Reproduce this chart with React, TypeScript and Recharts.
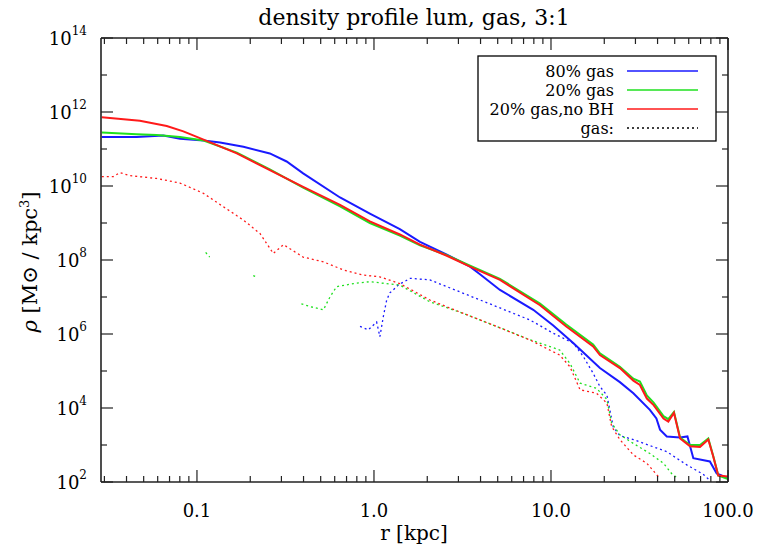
import React from 'react'
import { LineChart, Line, XAxis, YAxis } from 'recharts'

// axis ranges and ticks
const rMin = 0.0287
const rMax = 100
const rhoMin = 1e2
const rhoMax = 1e14
const xTicks = [
  0.03, 0.04, 0.05, 0.06, 0.07, 0.08, 0.09, 0.1,
  0.2, 0.3, 0.4, 0.5, 0.6, 0.7, 0.8, 0.9, 1,
  2, 3, 4, 5, 6, 7, 8, 9, 10,
  20, 30, 40, 50, 60, 70, 80, 90, 100,
]
const xMajor = [0.1, 1, 10, 100]
const xLabels = ['0.1', '1.0', '10.0', '100.0']
const yTicks = [1e2, 1e3, 1e4, 1e5, 1e6, 1e7, 1e8, 1e9, 1e10, 1e11, 1e12, 1e13, 1e14]
const yLabelExp = [2, 4, 6, 8, 10, 12, 14]

// 80% gas (blue, solid)
const blueR = [0.029, 0.0456, 0.0646, 0.0802, 0.109, 0.135, 0.183, 0.258, 0.321, 0.398, 0.643, 0.948, 1.4, 1.82, 2.58, 3.49, 3.97, 5.15, 7.94, 10.3, 13.4, 18.9, 24.5, 29.2, 36.2, 39.4, 41.3, 45.1, 53.6, 59, 63.7, 79, 86.3, 98.4]
const blueRho = [2.1e11, 2.1e11, 2.3e11, 1.9e11, 1.7e11, 1.5e11, 1.15e11, 7.6e10, 4.6e10, 2.2e10, 4.9e9, 1.8e9, 6.8e8, 3.1e8, 1.4e8, 6.6e7, 4.1e7, 1.55e7, 4.5e6, 1.7e6, 5.6e5, 1.2e5, 5.0e4, 2.5e4, 8.9e3, 5.2e3, 2.6e3, 1.7e3, 1.6e3, 1.7e3, 4.4e2, 3.6e2, 1.7e2, 1.3e2]

// 20% gas (green, solid)
const greenR = [0.029, 0.0456, 0.0592, 0.0802, 0.109, 0.168, 0.258, 0.398, 0.643, 0.948, 1.4, 1.82, 2.58, 3.49, 5.15, 8.67, 12.2, 17.3, 18.9, 24.5, 29.2, 31.8, 34.8, 38, 43.2, 46, 49.5, 53.6, 61, 69.5, 77.4, 82.6, 88.1, 100]
const greenRho = [2.8e11, 2.5e11, 2.4e11, 2.1e11, 1.7e11, 8.0e10, 2.8e10, 9.0e9, 2.8e9, 1.0e9, 4.6e8, 2.5e8, 1.35e8, 7.0e7, 3.1e7, 6.6e6, 1.8e6, 5.2e5, 3.0e5, 1.3e5, 6.2e4, 5.2e4, 2.2e4, 1.4e4, 6.0e3, 5.0e3, 7.8e3, 1.6e3, 1.0e3, 1.0e3, 1.5e3, 5.0e2, 1.5e2, 1.2e2]

// 20% gas, no BH (red, solid)
const redR = [0.029, 0.0476, 0.0675, 0.0838, 0.109, 0.168, 0.258, 0.398, 0.643, 0.948, 1.4, 1.82, 2.58, 3.49, 5.15, 8.67, 12.2, 17.3, 18.9, 24.5, 29.2, 31.8, 34.8, 38, 43.2, 46, 49.5, 53.6, 61, 69.5, 77.4, 82.6, 88.1, 100]
const redRho = [7.2e11, 5.8e11, 4.2e11, 3.0e11, 1.8e11, 7.6e10, 2.7e10, 9.5e9, 3.1e9, 1.1e9, 4.9e8, 2.6e8, 1.3e8, 6.6e7, 2.9e7, 6.0e6, 1.6e6, 4.6e5, 2.7e5, 1.2e5, 5.5e4, 4.2e4, 1.8e4, 1.2e4, 5.2e3, 4.3e3, 7.4e3, 1.5e3, 9.3e2, 8.9e2, 1.4e3, 4.8e2, 1.5e2, 1.4e2]

// gas components (dotted); null breaks the curve where the profile has gaps
const blueGasR = [0.834, 0.929, 1.035, 1.08, 1.13, 1.18, 1.23, 1.285, 1.37, 1.6, 2.07, 3.2, 4.93, 7.6, 10.3, 13.4, 15.2, 17.3, 18.9, 20.7, 22.5, 24.5, 29.2, 45.1, 58.5, 72.6, 79.1]
const blueGasRho = [1.6e6, 1.3e6, 2.1e6, 8.5e5, 3.0e6, 8.3e6, 1.3e7, 1.55e7, 2.1e7, 3.2e7, 2.9e7, 1.26e7, 5.5e6, 2.4e6, 1.05e6, 5.6e5, 2.5e5, 8.7e4, 3.8e4, 2.2e4, 3.0e3, 1.8e3, 1.4e3, 6.6e2, 2.9e2, 1.6e2, 1.1e2]

const greenGasR = [0.112, 0.118, 0.16, 0.208, 0.214, 0.3, 0.389, 0.437, 0.518, 0.564, 0.615, 0.764, 0.948, 1.18, 1.4, 2.07, 3.2, 4.93, 7.6, 11.2, 12.8, 14.6, 18.1, 20.7, 22.0, 24.5, 29.2, 36.2, 43.2, 48, 52]
const greenGasRho = [1.6e8, 1.2e8, null, 3.8e7, 3.6e7, null, 6.5e6, 5.5e6, 4.5e6, 1.0e7, 1.9e7, 2.3e7, 2.6e7, 2.3e7, 2.1e7, 7.4e6, 3.6e6, 1.6e6, 7.0e5, 3.7e5, 1.6e5, 4.7e4, 3.4e4, 1.7e4, 3.9e3, 1.9e3, 1.1e3, 5.9e2, 3.2e2, 1.7e2, 1.26e2]

const redGasR = [0.029, 0.0337, 0.0367, 0.0418, 0.0592, 0.0802, 0.109, 0.141, 0.183, 0.227, 0.27, 0.308, 0.398, 0.518, 0.671, 0.871, 1.08, 1.4, 2.07, 3.2, 4.93, 7.6, 11.2, 12.8, 14.6, 18.1, 20.7, 22.0, 24.5, 29.2, 34.8, 40.4]
const redGasRho = [1.8e10, 1.8e10, 2.3e10, 1.9e10, 1.6e10, 1.2e10, 6.3e9, 2.75e9, 1.2e9, 5.2e8, 1.5e8, 2.6e8, 1.2e8, 8.9e7, 5.4e7, 3.9e7, 3.5e7, 2.3e7, 8.3e6, 3.6e6, 1.6e6, 6.9e5, 2.7e5, 1.3e5, 3.1e4, 2.5e4, 1.35e4, 3.2e3, 1.4e3, 5.4e2, 3.2e2, 1.4e2]

const BLUE = '#1a1aff'
const GREEN = '#1fe01f'
const RED = '#ff1a1a'
const AXIS = '#222'
const FONT = '"DejaVu Serif", "Liberation Serif", serif'

const zip = (r: number[], rho: (number | null)[]) => r.map((v, i) => ({ r: v, rho: rho[i] }))

const series = [
  { key: 'blueGas', data: zip(blueGasR, blueGasRho), color: BLUE, dotted: true },
  { key: 'greenGas', data: zip(greenGasR, greenGasRho), color: GREEN, dotted: true },
  { key: 'redGas', data: zip(redGasR, redGasRho), color: RED, dotted: true },
  { key: 'blue', data: zip(blueR, blueRho), color: BLUE, dotted: false },
  { key: 'green', data: zip(greenR, greenRho), color: GREEN, dotted: false },
  { key: 'red', data: zip(redR, redRho), color: RED, dotted: false },
]

const legendRows = [
  { label: '80% gas', color: BLUE, dotted: false },
  { label: '20% gas', color: GREEN, dotted: false },
  { label: '20% gas,no BH', color: RED, dotted: false },
  { label: 'gas:', color: '#000', dotted: true },
]

const isMajorX = (v: number) => xMajor.some((m) => Math.abs(m - v) < 1e-9)
const expOf = (v: number) => Math.round(Math.log10(v))

function BottomTick({ x, y, payload }: any) {
  const v = payload.value
  const idx = xMajor.findIndex((m) => Math.abs(m - v) < 1e-9)
  const major = idx >= 0
  return (
    <g>
      <line x1={x} y1={y} x2={x} y2={y - (major ? 12 : 6)} stroke={AXIS} strokeWidth={1.2} />
      {major && (
        <text x={x} y={y + 35} textAnchor="middle" fontFamily={FONT} fontSize={18} fill="#000">
          {xLabels[idx]}
        </text>
      )}
    </g>
  )
}

function TopTick({ x, y, payload }: any) {
  const major = isMajorX(payload.value)
  return <line x1={x} y1={y} x2={x} y2={y + (major ? 12 : 6)} stroke={AXIS} strokeWidth={1.2} />
}

function LeftTick({ x, y, payload }: any) {
  const e = expOf(payload.value)
  const major = yLabelExp.includes(e)
  return (
    <g>
      <line x1={x} y1={y} x2={x + (major ? 12 : 6)} y2={y} stroke={AXIS} strokeWidth={1.2} />
      {major && (
        <text x={x - 14} y={y + 7} textAnchor="end" fontFamily={FONT} fontSize={18} fill="#000">
          10
          <tspan dy={-10} fontSize={12}>{e}</tspan>
        </text>
      )}
    </g>
  )
}

function RightTick({ x, y, payload }: any) {
  const major = yLabelExp.includes(expOf(payload.value))
  return <line x1={x} y1={y} x2={x - (major ? 12 : 6)} y2={y} stroke={AXIS} strokeWidth={1.2} />
}

const axisCommon = {
  type: 'number' as const,
  scale: 'log' as const,
  allowDataOverflow: true,
  interval: 0 as const,
  tickSize: 0,
  tickMargin: 0,
  tickLine: false,
  axisLine: { stroke: AXIS, strokeWidth: 1.6 },
}

export default function App() {
  return (
    <div style={{ position: 'absolute', left: 0, top: 0, width: 760, height: 546, background: '#fff' }}>
      <LineChart width={760} height={546} margin={{ top: 37, right: 31, bottom: 63, left: 100 }}>
        <XAxis {...axisCommon} dataKey="r" domain={[rMin, rMax]} ticks={xTicks} height={1} tick={<BottomTick />} />
        <XAxis
          {...axisCommon}
          xAxisId="top"
          orientation="top"
          dataKey="r"
          domain={[rMin, rMax]}
          ticks={xTicks}
          height={1}
          tick={<TopTick />}
        />
        <YAxis {...axisCommon} dataKey="rho" domain={[rhoMin, rhoMax]} ticks={yTicks} width={1} tick={<LeftTick />} />
        <YAxis
          {...axisCommon}
          yAxisId="right"
          orientation="right"
          dataKey="rho"
          domain={[rhoMin, rhoMax]}
          ticks={yTicks}
          width={1}
          tick={<RightTick />}
        />
        {series.map((s) => (
          <Line
            key={s.key}
            data={s.data}
            dataKey="rho"
            type="linear"
            stroke={s.color}
            strokeWidth={s.dotted ? 1.3 : 2}
            strokeDasharray={s.dotted ? '2 3' : undefined}
            dot={false}
            activeDot={false}
            connectNulls={false}
            isAnimationActive={false}
          />
        ))}
      </LineChart>

      <svg width={760} height={546} style={{ position: 'absolute', left: 0, top: 0, pointerEvents: 'none' }}>
        <text x={414} y={25} textAnchor="middle" fontFamily={FONT} fontSize={22} fill="#000">
          density profile lum, gas, 3:1
        </text>
        <text x={414} y={540} textAnchor="middle" fontFamily={FONT} fontSize={20} fill="#000">
          r [kpc]
        </text>
        <text
          transform="translate(37,262) rotate(-90)"
          textAnchor="middle"
          fontFamily={FONT}
          fontSize={21}
          fill="#000"
        >
          <tspan fontStyle="italic">ρ</tspan> [M⊙ / kpc<tspan dy={-8} fontSize={13}>3</tspan>
          <tspan dy={8}>]</tspan>
        </text>

        <rect x={478} y={56} width={238} height={85} fill="#fff" stroke="#000" strokeWidth={1.3} />
        {legendRows.map((row, i) => (
          <g key={row.label}>
            <text x={614} y={77 + i * 19} textAnchor="end" fontFamily={FONT} fontSize={16} fill="#000">
              {row.label}
            </text>
            <line
              x1={627}
              y1={71 + i * 19}
              x2={698}
              y2={71 + i * 19}
              stroke={row.color}
              strokeWidth={1.3}
              strokeDasharray={row.dotted ? '2 3' : undefined}
            />
          </g>
        ))}
      </svg>
    </div>
  )
}
